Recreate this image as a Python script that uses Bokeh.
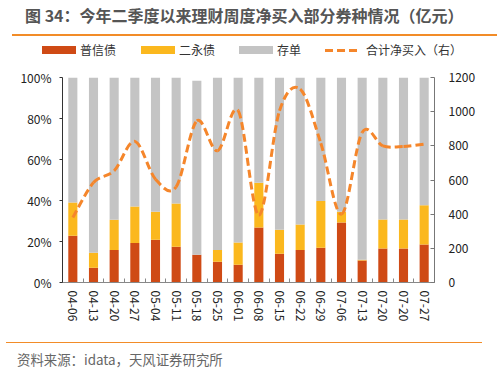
import numpy as np
from bokeh.plotting import figure
from bokeh.models import (Range1d, LinearAxis, FixedTicker, PrintfTickFormatter,
                          Div, ColumnDataSource)
from bokeh.layouts import column
from bokeh.embed import file_html
from bokeh.resources import INLINE

# ---------------- data ----------------
dates = ["04-06", "04-13", "04-20", "04-27", "05-04", "05-11", "05-18", "05-25", "06-01",
         "06-08", "06-15", "06-22", "06-29", "07-06", "07-13", "07-20", "07-20", "07-27"]
pu_xin = [22.8, 7.2, 15.9, 19.3, 20.8, 17.4, 13.5, 10.1, 8.6,
          26.8, 14.0, 15.9, 16.9, 29.3, 10.7, 16.6, 16.6, 18.5]
er_yong = [16.2, 7.3, 14.7, 17.8, 13.7, 21.1, -0.6, 5.8, 10.9,
           21.8, 11.7, 12.4, 22.8, 5.2, 0.4, 14.1, 14.1, 19.2]
cun_dan = [61.0, 85.5, 69.4, 62.9, 65.5, 61.5, 84.9, 84.1, 80.5,
           51.4, 74.3, 71.7, 60.3, 65.5, 88.9, 69.3, 69.3, 62.3]
net_buy = [380, 585, 654, 826, 605, 560, 946, 771, 1005,
           395, 1005, 1132, 815, 400, 878, 800, 796, 810]

left_ticks = [0, 20, 40, 60, 80, 100]
right_ticks = [0, 200, 400, 600, 800, 1000, 1200]
series_names = ["普信债", "二永债", "存单", "合计净买入（右）"]
title_text = "图 34：今年二季度以来理财周度净买入部分券种情况（亿元）"
source_text = "资料来源：idata，天风证券研究所"

# ---------------- style ----------------
FONT = "Noto Sans CJK SC"
C_RED = "#CF4A15"
C_YEL = "#FBB81E"
C_GRY = "#C4C4C4"
C_LINE = "#F5862B"
C_RULE = "#F28C28"

n = len(dates)
xs = np.arange(n, dtype=float)

pos = np.zeros(n)
neg = np.zeros(n)


def stack(vals):
    v = np.asarray(vals, dtype=float)
    bottom = np.where(v >= 0, pos, neg)
    top = bottom + v
    pos[:] = np.where(v >= 0, top, pos)
    neg[:] = np.where(v < 0, top, neg)
    return bottom, top


# ---------------- main chart ----------------
p = figure(width=499, height=272, x_range=Range1d(-0.5, n - 0.5), y_range=Range1d(0, 100),
           output_backend="svg", toolbar_location=None, title=None,
           min_border_left=62, min_border_right=65, min_border_top=13, min_border_bottom=54)
p.outline_line_color = None
p.border_fill_color = None
p.background_fill_color = None
p.xgrid.visible = False
p.ygrid.visible = False
p.extra_y_ranges = {"right": Range1d(0, 1200)}

for vals, col in zip((pu_xin, er_yong, cun_dan), (C_RED, C_YEL, C_GRY)):
    b, t = stack(vals)
    src = ColumnDataSource(dict(x=xs, bottom=b, top=t))
    p.vbar(x="x", bottom="bottom", top="top", width=0.44, source=src,
           fill_color=col, line_color=None)

# smoothed line (Excel style): bezier segments through the data points
py = np.asarray(net_buy, dtype=float)
ext_x = np.concatenate([[xs[0]], xs, [xs[-1]]])
ext_y = np.concatenate([[py[0]], py, [py[-1]]])
x0, y0 = xs[:-1], py[:-1]
x1, y1 = xs[1:], py[1:]
cx0 = x0 + (ext_x[2:n + 1] - ext_x[0:n - 1]) / 6.0
cy0 = y0 + (ext_y[2:n + 1] - ext_y[0:n - 1]) / 6.0
cx1 = x1 - (ext_x[3:n + 2] - ext_x[1:n]) / 6.0
cy1 = y1 - (ext_y[3:n + 2] - ext_y[1:n]) / 6.0
bez_source = ColumnDataSource(dict(x0=x0, y0=y0, x1=x1, y1=y1, cx0=cx0, cy0=cy0, cx1=cx1, cy1=cy1))
p.bezier(x0="x0", y0="y0", x1="x1", y1="y1", cx0="cx0", cy0="cy0", cx1="cx1", cy1="cy1",
         source=bez_source, y_range_name="right",
         line_color=C_LINE, line_width=3, line_dash="8 4")

xa = p.xaxis[0]
xa.ticker = FixedTicker(ticks=list(range(n)), minor_ticks=[i + 0.5 for i in range(-1, n)])
xa.major_label_overrides = {i: d for i, d in enumerate(dates)}
xa.major_label_orientation = -np.pi / 2
xa.major_tick_in = 0
xa.major_tick_out = 0
xa.minor_tick_in = 4
xa.minor_tick_out = 0
xa.minor_tick_line_color = "#888888"
xa.axis_line_color = "#888888"
xa.major_label_standoff = 8
xa.major_label_text_font = FONT
xa.major_label_text_font_size = "12px"
xa.major_label_text_color = "#222222"

ya = p.yaxis[0]
ya.ticker = FixedTicker(ticks=left_ticks)
ya.formatter = PrintfTickFormatter(format="%d%%")
ya.axis_line_color = "#333333"
ya.major_tick_line_color = "#333333"
ya.major_tick_in = 0
ya.major_tick_out = 3
ya.minor_tick_line_color = None
ya.major_label_standoff = 8
ya.major_label_text_font = FONT
ya.major_label_text_font_size = "12px"
ya.major_label_text_color = "#222222"

ra = LinearAxis(y_range_name="right", ticker=FixedTicker(ticks=right_ticks))
ra.axis_line_color = "#777777"
ra.major_tick_line_color = "#777777"
ra.major_tick_in = 4
ra.major_tick_out = 0
ra.minor_tick_line_color = None
ra.major_label_standoff = 14
ra.major_label_text_font = FONT
ra.major_label_text_font_size = "12px"
ra.major_label_text_color = "#222222"
p.add_layout(ra, "right")

# ---------------- legend strip ----------------
item_lefts = [42, 141, 239, 325]
label_style = (f"position:absolute;top:10px;line-height:16px;font-family:'{FONT}';"
               f"font-size:12px;color:#333333;white-space:nowrap;")
parts = []
for nm, col, left in zip(series_names[:3], (C_RED, C_YEL, C_GRY), item_lefts[:3]):
    parts.append(f'<span style="position:absolute;left:{left}px;top:14px;width:34px;height:8px;'
                 f'background:{col};"></span>')
    parts.append(f'<span style="{label_style}left:{left + 38}px;">{nm}</span>')
for k in range(3):
    parts.append(f'<span style="position:absolute;left:{item_lefts[3] + 12 * k}px;top:16.5px;'
                 f'width:8px;height:3px;background:{C_LINE};"></span>')
parts.append(f'<span style="{label_style}left:{item_lefts[3] + 41}px;">{series_names[3]}</span>')
legend_div = Div(text=('<div style="position:relative;width:499px;height:32px;">'
                       + "".join(parts) + '</div>'),
                 width=499, height=32, margin=(0, 0, 0, 0))

# ---------------- title / source ----------------
title_div = Div(text=(f'<div style="position:relative;width:499px;height:24px;">'
                      f'<span style="position:absolute;left:25px;top:6px;line-height:18px;'
                      f'font-family:\'{FONT}\';font-weight:bold;font-size:16px;color:#555555;'
                      f'white-space:nowrap;">{title_text}</span></div>'),
                width=499, height=24, margin=(0, 0, 0, 0))
rule_div = Div(text=(f'<div style="margin-top:4px;margin-left:12px;width:485px;height:2px;'
                     f'background:{C_RULE};"></div>'),
               width=499, height=8, margin=(0, 0, 0, 0))
source_div = Div(text=(f'<div style="margin-top:6px;margin-left:6px;width:476px;'
                       f'border-top:1.5px solid {C_RULE};padding-top:9px;padding-left:11px;'
                       f'font-family:\'{FONT}\';font-size:13.4px;line-height:14px;'
                       f'color:#666666;white-space:nowrap;">{source_text}</div>'),
                 width=499, height=36, margin=(0, 0, 0, 0))

layout = column(title_div, rule_div, legend_div, p, source_div, spacing=0)
open("out.html", "w").write(file_html(layout, INLINE))
